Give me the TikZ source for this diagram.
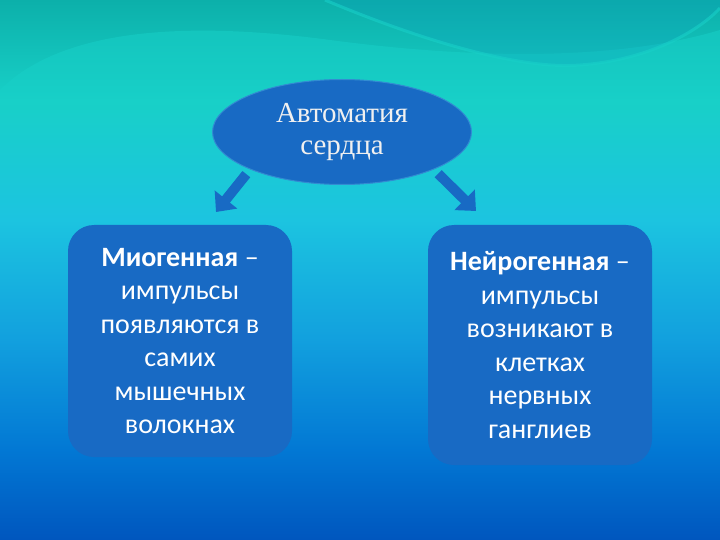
\documentclass[tikz,border=0pt]{standalone}
\usepackage{fontspec}
\setmainfont{Carlito}
\newfontfamily\titlefont{Liberation Serif}
\usetikzlibrary{arrows.meta,shapes.geometric}

\definecolor{bgA}{RGB}{12,176,170}
\definecolor{bgB}{RGB}{24,208,200}
\definecolor{bgC}{RGB}{28,196,224}
\definecolor{bgD}{RGB}{18,160,222}
\definecolor{bgE}{RGB}{2,120,212}
\definecolor{bgF}{RGB}{0,86,190}
\definecolor{boxblue}{RGB}{24,106,196}
\definecolor{edgeblue}{RGB}{50,140,210}

\begin{document}
\begin{tikzpicture}[x=1pt,y=-1pt,
    boxnode/.style={fill=boxblue, rounded corners=26pt, minimum width=224pt,
      text=white, align=center, font=\fontsize{28}{33.5}\selectfont},
    blockarrow/.style={draw=boxblue, line width=10pt, shorten <=6pt,
      -{Triangle[width=28pt,length=16pt]}}]
    \useasboundingbox (0,0) rectangle (720,540);
    % background, top to bottom
    \shade[top color=bgA, bottom color=bgB] (0,0) rectangle (720,100);
    \shade[top color=bgB, bottom color=bgC] (0,99.5) rectangle (720,220);
    \shade[top color=bgC, bottom color=bgD] (0,219.5) rectangle (720,340);
    \shade[top color=bgD, bottom color=bgE] (0,339.5) rectangle (720,450);
    \shade[top color=bgE, bottom color=bgF] (0,449.5) rectangle (720,540);
    % waves at the top
    \fill[bgB, opacity=0.55] (0,90) .. controls (60,30) and (180,20) .. (330,40)
      .. controls (480,60) and (620,60) .. (720,30) -- (720,110) -- (0,110) -- cycle;
    \fill[bgA!80!blue, opacity=0.2] (325,0) .. controls (420,40) and (520,70) .. (580,65)
      .. controls (650,60) and (700,30) .. (720,8) -- (720,0) -- cycle;
    \draw[bgB, opacity=0.6, line width=3pt] (325,0) .. controls (420,40) and (520,70) .. (580,65)
      .. controls (650,60) and (700,30) .. (720,8);

    \node[ellipse, fill=boxblue, draw=edgeblue, line width=1pt,
      minimum width=259pt, minimum height=105pt, text=white!94!black, align=center,
      font=\titlefont\fontsize{29}{32}\selectfont] (ell) at (342,132)
      {Автоматия\\сердца};

    \node[boxnode, minimum height=232pt] (myo) at (180,341)
      {\textbf{Миогенная} –\\импульсы\\появляются в\\самих\\мышечных\\волокнах};
    \node[boxnode, minimum height=240pt] (neuro) at (540,345)
      {\textbf{Нейрогенная} –\\импульсы\\возникают в\\клетках\\нервных\\ганглиев};

    \coordinate (lefttip) at (216,212);
    \coordinate (righttip) at (476,211);
    \draw[blockarrow] (ell.south west) -- (lefttip);
    \draw[blockarrow] (ell.south east) -- (righttip);
\end{tikzpicture}
\end{document}
